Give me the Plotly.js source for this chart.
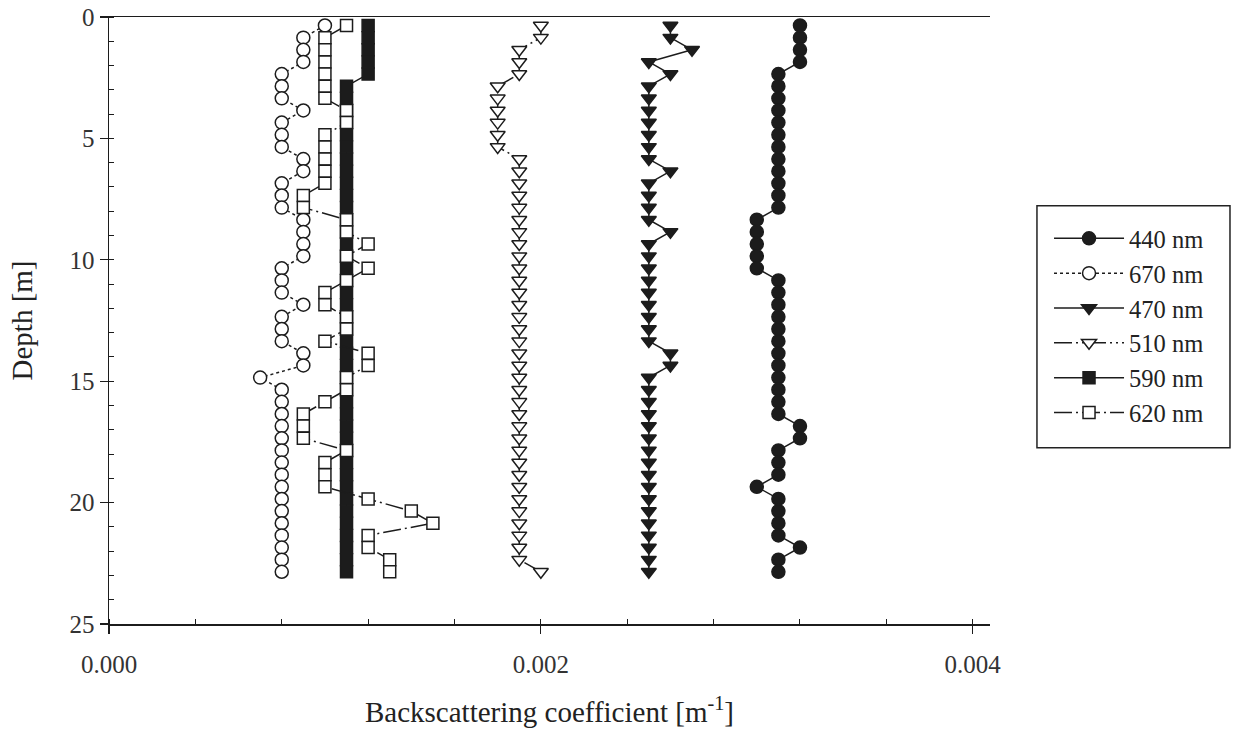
<!DOCTYPE html>
<html>
<head>
<meta charset="utf-8">
<script src="https://cdn.plot.ly/plotly-3.0.1.min.js"></script>
<style>html,body{margin:0;padding:0;background:#fff;}#chart{width:1234px;height:734px;}</style>
</head>
<body>
<div id="chart"></div>
<script>
// Depth [m]
const depth = [0.35,0.85,1.35,1.85,2.35,2.85,3.35,3.85,4.35,4.85,5.35,5.85,6.35,6.85,7.35,7.85,8.35,8.85,9.35,9.85,10.35,10.85,11.35,11.85,12.35,12.85,13.35,13.85,14.35,14.85,15.35,15.85,16.35,16.85,17.35,17.85,18.35,18.85,19.35,19.85,20.35,20.85,21.35,21.85,22.35,22.85];

// Backscattering coefficient [m^-1]
const bb440 = [0.0032,0.0032,0.0032,0.0032,0.0031,0.0031,0.0031,0.0031,0.0031,0.0031,0.0031,0.0031,0.0031,0.0031,0.0031,0.0031,0.0030,0.0030,0.0030,0.0030,0.0030,0.0031,0.0031,0.0031,0.0031,0.0031,0.0031,0.0031,0.0031,0.0031,0.0031,0.0031,0.0031,0.0032,0.0032,0.0031,0.0031,0.0031,0.0030,0.0031,0.0031,0.0031,0.0031,0.0032,0.0031,0.0031];
const bb670 = [0.0010,0.0009,0.0009,0.0009,0.0008,0.0008,0.0008,0.0009,0.0008,0.0008,0.0008,0.0009,0.0009,0.0008,0.0008,0.0008,0.0009,0.0009,0.0009,0.0009,0.0008,0.0008,0.0008,0.0009,0.0008,0.0008,0.0008,0.0009,0.0009,0.0007,0.0008,0.0008,0.0008,0.0008,0.0008,0.0008,0.0008,0.0008,0.0008,0.0008,0.0008,0.0008,0.0008,0.0008,0.0008,0.0008];
const bb470 = [0.0026,0.0026,0.0027,0.0025,0.0026,0.0025,0.0025,0.0025,0.0025,0.0025,0.0025,0.0025,0.0026,0.0025,0.0025,0.0025,0.0025,0.0026,0.0025,0.0025,0.0025,0.0025,0.0025,0.0025,0.0025,0.0025,0.0025,0.0026,0.0026,0.0025,0.0025,0.0025,0.0025,0.0025,0.0025,0.0025,0.0025,0.0025,0.0025,0.0025,0.0025,0.0025,0.0025,0.0025,0.0025,0.0025];
const bb510 = [0.0020,0.0020,0.0019,0.0019,0.0019,0.0018,0.0018,0.0018,0.0018,0.0018,0.0018,0.0019,0.0019,0.0019,0.0019,0.0019,0.0019,0.0019,0.0019,0.0019,0.0019,0.0019,0.0019,0.0019,0.0019,0.0019,0.0019,0.0019,0.0019,0.0019,0.0019,0.0019,0.0019,0.0019,0.0019,0.0019,0.0019,0.0019,0.0019,0.0019,0.0019,0.0019,0.0019,0.0019,0.0019,0.0020];
const bb590 = [0.0012,0.0012,0.0012,0.0012,0.0012,0.0011,0.0011,0.0011,0.0011,0.0011,0.0011,0.0011,0.0011,0.0011,0.0011,0.0011,0.0011,0.0011,0.0011,0.0011,0.0011,0.0011,0.0011,0.0011,0.0011,0.0011,0.0011,0.0011,0.0011,0.0011,0.0011,0.0011,0.0011,0.0011,0.0011,0.0011,0.0011,0.0011,0.0011,0.0011,0.0011,0.0011,0.0011,0.0011,0.0011,0.0011];
const bb620 = [0.0011,0.0010,0.0010,0.0010,0.0010,0.0010,0.0010,0.0011,0.0011,0.0010,0.0010,0.0010,0.0010,0.0010,0.0009,0.0009,0.0011,0.0011,0.0012,0.0011,0.0012,0.0011,0.0010,0.0010,0.0011,0.0011,0.0010,0.0012,0.0012,0.0011,0.0011,0.0010,0.0009,0.0009,0.0009,0.0011,0.0010,0.0010,0.0010,0.0012,0.0014,0.0015,0.0012,0.0012,0.0013,0.0013];

const seriesNames = ['440 nm','670 nm','470 nm','510 nm','590 nm','620 nm'];

const INK = '#1c1c1c';
const FONT = '"Liberation Serif", "Times New Roman", serif';

function tr(name, xs, symbol, fill, dash, size) {
  return {
    type: 'scatter', mode: 'lines+markers', name: name, legendgroup: name,
    x: xs, y: depth,
    line: {color: INK, width: 1.5, dash: dash},
    marker: {symbol: symbol, size: size, color: fill, line: {color: INK, width: 1.5}},
    hoverinfo: 'x+y'
  };
}

const data = [
  tr(seriesNames[0], bb440, 'circle', INK, 'solid', 13),
  tr(seriesNames[1], bb670, 'circle', '#ffffff', 'dot', 13),
  tr(seriesNames[2], bb470, 'triangle-down', INK, 'solid', 13),
  tr(seriesNames[3], bb510, 'triangle-down', '#ffffff', '18px,4px,2px,4px,2px,4px', 13),
  tr(seriesNames[4], bb590, 'square', INK, 'solid', 12),
  tr(seriesNames[5], bb620, 'square', '#ffffff', '18px,4px,2px,4px', 12)
];

const layout = {
  width: 1234, height: 734,
  margin: {l: 109, r: 244, t: 17, b: 110},
  paper_bgcolor: '#ffffff', plot_bgcolor: '#ffffff',
  font: {family: FONT, color: '#222', size: 24},
  showlegend: true,
  legend: {
    x: 1.067, xanchor: 'left', y: 0.6724, yanchor: 'top',
    borderwidth: 0, bgcolor: 'rgba(0,0,0,0)',
    font: {family: FONT, size: 24.5, color: '#222'},
    itemwidth: 70, tracegroupgap: 0,
    traceorder: 'normal'
  },
  shapes: [{
    type: 'rect', xref: 'paper', yref: 'paper',
    x0: 1.0533, x1: 1.2724, y0: 0.2905, y1: 0.6889,
    line: {color: '#222', width: 1.5}, fillcolor: 'rgba(0,0,0,0)', layer: 'below'
  }],
  xaxis: {
    range: [0, 0.00408], dtick: 0.002, tick0: 0, tickformat: '.3f',
    showgrid: false, zeroline: false,
    showline: true, linecolor: INK, linewidth: 1.5, mirror: true,
    ticks: 'outside', ticklen: 8, tickwidth: 1.2, tickcolor: INK,
    ticklabelstandoff: 9,
    tickfont: {family: FONT, size: 25, color: '#333'},
    minor: {dtick: 0.0004, ticks: 'inside', ticklen: 5, tickwidth: 1, tickcolor: INK, showgrid: false},
    title: {text: 'Backscattering coefficient [m<sup>-1</sup>]', font: {family: FONT, size: 29, color: '#222'}, standoff: 25}
  },
  yaxis: {
    range: [25, 0], dtick: 5, tick0: 0,
    showgrid: false, zeroline: false,
    showline: true, linecolor: INK, linewidth: 1.5, mirror: false,
    ticks: 'outside', ticklen: 8, tickwidth: 1.2, tickcolor: INK,
    tickfont: {family: FONT, size: 25, color: '#333'},
    minor: {dtick: 1, ticks: 'inside', ticklen: 5, tickwidth: 1, tickcolor: INK, showgrid: false},
    title: {text: 'Depth [m]', font: {family: FONT, size: 29, color: '#222'}, standoff: 28}
  },
  xaxis2: {
    overlaying: 'x', anchor: 'y', side: 'bottom', range: [0, 0.00408], dtick: 0.002, tick0: 0,
    showgrid: false, zeroline: false, showline: false, showticklabels: false,
    ticks: 'inside', ticklen: 8, tickwidth: 1.2, tickcolor: INK
  },
  yaxis2: {
    overlaying: 'y', anchor: 'x', side: 'left', range: [25, 0], dtick: 5, tick0: 0,
    showgrid: false, zeroline: false, showline: false, showticklabels: false,
    ticks: 'inside', ticklen: 8, tickwidth: 1.2, tickcolor: INK
  }
};

Plotly.newPlot('chart', data, layout, {displayModeBar: false, staticPlot: true});
</script>
</body>
</html>
